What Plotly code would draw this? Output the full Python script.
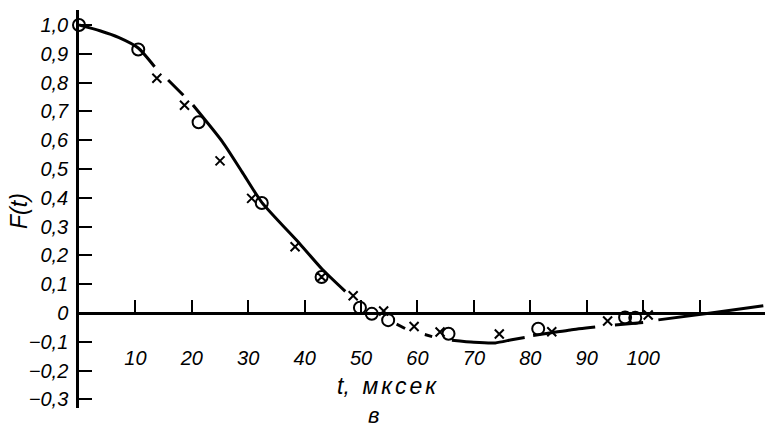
import plotly.graph_objects as go

# ---- data ----
circle_t = [0, 10.5, 21.2, 32.4, 49.8, 51.9, 54.8, 65.5, 81.4, 96.8, 98.6]
circle_F = [1.0, 0.915, 0.662, 0.382, 0.018, -0.003, -0.025, -0.072, -0.055, -0.016, -0.017]

cross_t = [13.8, 18.7, 25.0, 30.6, 38.3, 48.6, 54.0, 59.4, 64.0, 74.5, 83.8, 93.7, 100.9]
cross_F = [0.815, 0.721, 0.528, 0.398, 0.23, 0.06, 0.007, -0.047, -0.066, -0.073, -0.065, -0.028, -0.007]

circx_t = [43.0]
circx_F = [0.125]

# fitted curve, drawn in broken segments as in the original
curve_seg_t = [
    [0, 3.7, 7.0, 10.5, 13.4],
    [15.8, 18.5],
    [20.2, 25.4, 28.9, 32.4, 39.2, 43.2, 47.2],
    [56.3, 57.8],
    [61.3, 62.6],
    [66.1, 70.0, 73.8, 76.7, 79.0],
    [80.5, 84.0, 87.1, 91.5],
    [95.0, 100.0],
    [102.7, 112.0, 121.3],
]
curve_seg_F = [
    [1.0, 0.98, 0.957, 0.92, 0.855],
    [0.809, 0.756],
    [0.722, 0.595, 0.49, 0.384, 0.239, 0.15, 0.075],
    [-0.039, -0.054],
    [-0.075, -0.082],
    [-0.095, -0.102, -0.104, -0.093, -0.085],
    [-0.078, -0.068, -0.059, -0.049],
    [-0.042, -0.033],
    [-0.024, 0.0, 0.025],
]

y_tick_vals = [-0.3, -0.2, -0.1, 0, 0.1, 0.2, 0.3, 0.4, 0.5, 0.6, 0.7, 0.8, 0.9, 1.0]
y_tick_text = ["\u22120,3", "\u22120,2", "\u22120,1", "0", "0,1", "0,2", "0,3", "0,4",
               "0,5", "0,6", "0,7", "0,8", "0,9", "1,0"]
x_tick_vals = [10, 20, 30, 40, 50, 60, 70, 80, 90, 100, 110]
x_tick_text = ["10", "20", "30", "40", "50", "60", "70", "80", "90", "100", ""]

# ---- build ----
curve_t, curve_F = [], []
for ts, fs in zip(curve_seg_t, curve_seg_F):
    curve_t += ts + [None]
    curve_F += fs + [None]

fig = go.Figure()
fig.add_trace(go.Scatter(x=curve_t, y=curve_F, mode="lines",
                         line=dict(color="black", width=3, shape="spline", smoothing=0.6),
                         connectgaps=False, cliponaxis=False, hoverinfo="skip"))
fig.add_trace(go.Scatter(x=circle_t, y=circle_F, mode="markers", cliponaxis=False,
                         marker=dict(symbol="circle-open", size=12, color="black",
                                     line=dict(width=2, color="black"))))
fig.add_trace(go.Scatter(x=cross_t, y=cross_F, mode="markers", cliponaxis=False,
                         marker=dict(symbol="x-thin-open", size=9, color="black",
                                     line=dict(width=2, color="black"))))
fig.add_trace(go.Scatter(x=circx_t, y=circx_F, mode="markers", cliponaxis=False,
                         marker=dict(symbol="circle-x-open", size=12, color="black",
                                     line=dict(width=2, color="black"))))

y_lo, y_hi = -0.330, 1.052
fig.update_layout(
    width=769, height=429,
    margin=dict(l=79, r=4, t=10, b=21),
    plot_bgcolor="white", paper_bgcolor="white",
    showlegend=False,
    font=dict(family="Liberation Sans, Arial, sans-serif", color="black"),
    xaxis=dict(range=[0, 121.6], showgrid=False, zeroline=False,
               showline=True, linecolor="black", linewidth=2.5,
               ticks="inside", ticklen=12, tickwidth=2, tickcolor="black",
               tickvals=x_tick_vals, ticktext=x_tick_text,
               tickfont=dict(size=20, style="italic"),
               anchor="free", position=(0 - y_lo) / (y_hi - y_lo),
               ticklabelstandoff=26),
    yaxis=dict(range=[y_lo, y_hi], showgrid=False, zeroline=False,
               showline=True, linecolor="black", linewidth=2.5,
               ticks="inside", ticklen=13, tickwidth=2, tickcolor="black",
               tickvals=y_tick_vals, ticktext=y_tick_text,
               tickfont=dict(size=20, style="italic"),
               ticklabelstandoff=4),
    annotations=[
        dict(text="t,  <span style='letter-spacing:3px'>мксек</span>",
             xref="paper", yref="paper", x=0.4504, y=0.0553,
             showarrow=False, font=dict(size=23, style="italic"),
             xanchor="center", yanchor="middle"),
        dict(text="в", xref="paper", yref="paper", x=0.43, y=-0.02,
             showarrow=False, font=dict(size=22, style="italic"),
             xanchor="center", yanchor="middle"),
        dict(text="F(t)", xref="paper", yref="paper", x=-0.0875, y=0.495,
             showarrow=False, textangle=-90, font=dict(size=23, style="italic"),
             xanchor="center", yanchor="middle"),
    ],
)

fig.write_html("out.html")
